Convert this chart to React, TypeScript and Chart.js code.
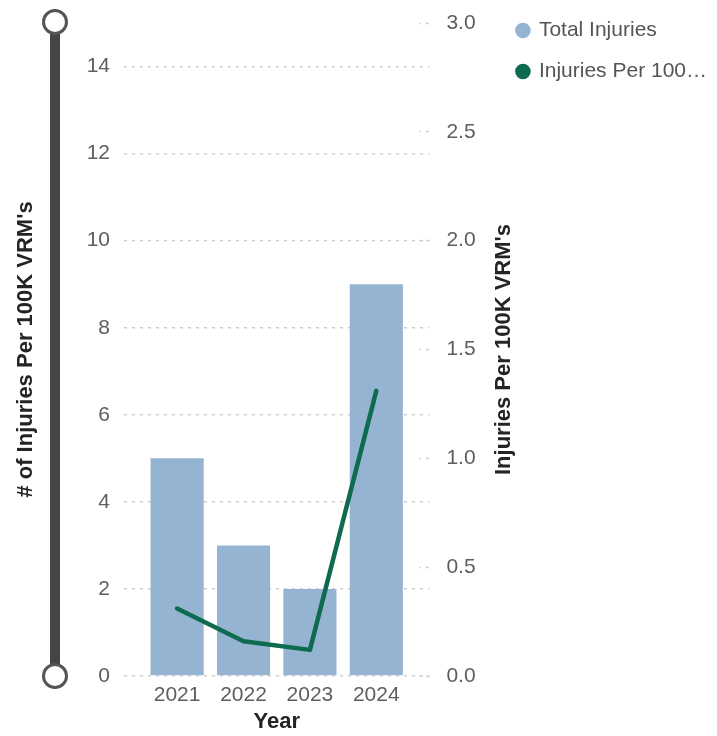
import { useEffect, useRef } from 'react';
import { Chart, registerables } from 'chart.js';

Chart.register(...registerables);

// Data
const YEARS = [2021, 2022, 2023, 2024];
const TOTAL_INJURIES = [5, 3, 2, 9];
const INJURIES_PER_100K = [0.31, 0.16, 0.12, 1.31];
const LEFT_TICKS = [0, 2, 4, 6, 8, 10, 12, 14];
const RIGHT_TICKS = [0, 0.5, 1, 1.5, 2, 2.5, 3];

const BAR_LABEL = 'Total Injuries';
const LINE_LABEL = "Injuries Per 100K VRM's";
const LEFT_TITLE = "# of Injuries Per 100K VRM's";
const RIGHT_TITLE = "Injuries Per 100K VRM's";
const X_TITLE = 'Year';

// Styles
const BAR_COLOR = '#94B4D2';
const LINE_COLOR = '#0E6B4F';
const FONT = '"Liberation Sans", Arial, sans-serif';
const TICK_COLOR = '#605E5C';
const TITLE_COLOR = '#252423';
const GRID_COLOR = '#CFCFCF';
const TITLE_SIZE = 22;
const LEGEND_TEXT_MAX = 172;
const PLOT_TOP = 23;

function truncate(ctx: CanvasRenderingContext2D, text: string, max: number) {
  if (ctx.measureText(text).width <= max) return text;
  let t = text;
  while (t.length > 1 && ctx.measureText(t.trimEnd() + '…').width > max) t = t.slice(0, -1);
  return t.trimEnd() + '…';
}

// Vertical range slider drawn beside the left axis
const zoomSlider = {
  id: 'zoomSlider',
  afterDraw(chart: any) {
    const { ctx, chartArea } = chart;
    const x = chart.scales.y.left + 55;
    ctx.save();
    ctx.fillStyle = '#454545';
    ctx.fillRect(x - 5, chartArea.top, 10, chartArea.bottom - chartArea.top);
    for (const y of [chartArea.top - 1, chartArea.bottom]) {
      ctx.beginPath();
      ctx.arc(x, y, 11.5, 0, Math.PI * 2);
      ctx.fillStyle = '#ffffff';
      ctx.fill();
      ctx.lineWidth = 3;
      ctx.strokeStyle = '#555555';
      ctx.stroke();
    }
    ctx.restore();
  },
};

// Right axis title, reading bottom to top
const rightTitle = {
  id: 'rightTitle',
  afterDraw(chart: any) {
    const { ctx, chartArea } = chart;
    const s = chart.scales.y1;
    ctx.save();
    ctx.translate(s.left + 75, (chartArea.top + chartArea.bottom) / 2);
    ctx.rotate(-Math.PI / 2);
    ctx.font = `bold ${TITLE_SIZE}px ${FONT}`;
    ctx.fillStyle = TITLE_COLOR;
    ctx.textAlign = 'center';
    ctx.textBaseline = 'middle';
    ctx.fillText(RIGHT_TITLE, 0, 0);
    ctx.restore();
  },
};

export default function App() {
  const canvasRef = useRef<HTMLCanvasElement | null>(null);

  useEffect(() => {
    const canvas = canvasRef.current;
    if (!canvas) return;

    const barData = YEARS.map((x, i) => ({ x, y: TOTAL_INJURIES[i] }));
    const lineData = YEARS.map((x, i) => ({ x, y: INJURIES_PER_100K[i] }));

    const chart = new Chart(canvas, {
      type: 'bar',
      data: {
        datasets: [
          {
            type: 'bar',
            label: BAR_LABEL,
            data: barData as any,
            backgroundColor: BAR_COLOR,
            yAxisID: 'y',
            categoryPercentage: 1,
            barPercentage: 0.8,
            order: 1,
          },
          {
            type: 'line',
            label: LINE_LABEL,
            data: lineData as any,
            borderColor: LINE_COLOR,
            backgroundColor: LINE_COLOR,
            borderWidth: 4.5,
            pointRadius: 0,
            tension: 0,
            borderCapStyle: 'round',
            borderJoinStyle: 'round',
            yAxisID: 'y1',
            order: 0,
          } as any,
        ],
      },
      plugins: [zoomSlider, rightTitle],
      options: {
        responsive: false,
        animation: false,
        layout: { padding: { left: 0, right: 0, top: 0, bottom: 0 } },
        scales: {
          x: {
            type: 'linear',
            offset: false,
            min: 2020.2,
            max: 2024.8,
            afterBuildTicks: (s: any) => {
              s.ticks = YEARS.map((v) => ({ value: v }));
            },
            afterFit: (s: any) => {
              s.height = 60;
            },
            grid: { display: false, drawTicks: false },
            border: { display: false },
            ticks: {
              color: TICK_COLOR,
              font: { family: FONT, size: 21 },
              padding: 7,
              maxRotation: 0,
              callback: (v: any) => String(v),
            },
            title: {
              display: true,
              text: X_TITLE,
              color: TITLE_COLOR,
              font: { family: FONT, size: TITLE_SIZE, weight: 'bold' },
              padding: { top: 1, bottom: 1 },
            },
          },
          y: {
            type: 'linear',
            position: 'left',
            min: 0,
            max: 15,
            afterBuildTicks: (s: any) => {
              s.ticks = LEFT_TICKS.map((v) => ({ value: v }));
            },
            afterFit: (s: any) => {
              s.width = 124;
              s.paddingTop = PLOT_TOP;
            },
            grid: {
              color: GRID_COLOR,
              lineWidth: 1.5,
              drawTicks: false,
            },
            // dotted horizontal grid lines
            border: { display: false, dash: [3, 5] },
            ticks: {
              color: TICK_COLOR,
              font: { family: FONT, size: 21 },
              padding: 14,
            },
            title: {
              display: true,
              text: LEFT_TITLE,
              color: TITLE_COLOR,
              font: { family: FONT, size: TITLE_SIZE, weight: 'bold' },
              padding: { top: 13, bottom: 0 },
            },
          },
          y1: {
            type: 'linear',
            position: 'right',
            min: 0,
            max: 3,
            afterBuildTicks: (s: any) => {
              s.ticks = RIGHT_TICKS.map((v) => ({ value: v }));
            },
            afterFit: (s: any) => {
              s.width = 68;
              s.paddingTop = PLOT_TOP;
            },
            grid: {
              drawOnChartArea: false,
              drawTicks: true,
              tickLength: -10,
              tickColor: GRID_COLOR,
              tickWidth: 1.5,
              tickBorderDash: [3, 5],
            } as any,
            border: { display: false },
            ticks: {
              color: TICK_COLOR,
              font: { family: FONT, size: 21 },
              padding: 27,
              callback: (v: any) => Number(v).toFixed(1),
            },
          },
        },
        plugins: {
          tooltip: { enabled: false },
          legend: {
            position: 'right',
            align: 'start',
            maxWidth: 240,
            labels: {
              usePointStyle: true,
              boxWidth: 11,
              boxHeight: 11,
              padding: 20,
              color: '#555555',
              font: { family: FONT, size: 21 },
              generateLabels: (c: any) => {
                const ctx = c.ctx as CanvasRenderingContext2D;
                ctx.save();
                ctx.font = `21px ${FONT}`;
                const items = c.data.datasets.map((ds: any, i: number) => ({
                  text: truncate(ctx, ds.label, LEGEND_TEXT_MAX),
                  fillStyle: ds.type === 'line' ? ds.borderColor : ds.backgroundColor,
                  strokeStyle: ds.type === 'line' ? ds.borderColor : ds.backgroundColor,
                  lineWidth: 0,
                  pointStyle: 'circle',
                  hidden: false,
                  datasetIndex: i,
                  fontColor: '#555555',
                }));
                ctx.restore();
                return items;
              },
            },
          },
        },
      },
    });

    return () => chart.destroy();
  }, []);

  return (
    <div style={{ position: 'absolute', left: 0, top: 0, width: 717, height: 736, background: '#ffffff' }}>
      <canvas ref={canvasRef} width={717} height={736} style={{ display: 'block' }} />
    </div>
  );
}
